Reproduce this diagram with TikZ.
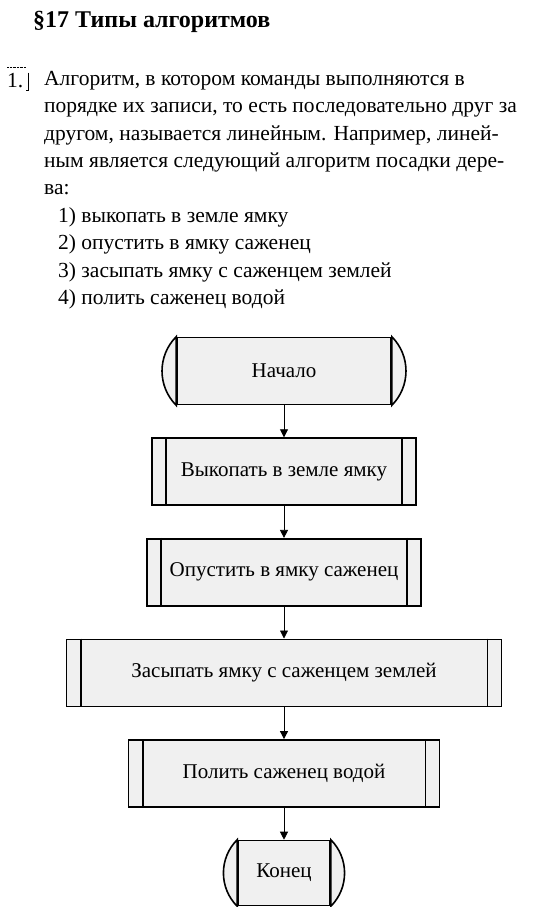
\documentclass[tikz,border=0pt]{standalone}
\usepackage{fontspec}
\setmainfont{Liberation Serif}
\usetikzlibrary{arrows.meta, positioning}

\begin{document}
\begin{tikzpicture}
  [
  x = 1pt, y = 1pt,
  % text
  title/.style = {anchor = base west, inner sep = 0,
    font = \fontsize{24}{28}\selectfont\bfseries},
  body/.style = {anchor = north west, inner sep = 0, align = left,
    font = \fontsize{21.5}{27.4}\selectfont},
  % blocks
  block/.style = {rectangle, draw, line width = 1.6pt, fill = black!6,
    minimum height = 67pt, inner sep = 0,
    font = \fontsize{21}{24}\selectfont},
  term/.style = {block},
  % line
  line/.style = {draw, line width = 0.8pt, -{Triangle[length = 8pt, width = 8pt]}},
  node distance = 32pt,
  ]

  \useasboundingbox (0,0) rectangle (552,-907);

  % text
  \node [title] (head) at (33,-28) {\S17 Типы алгоритмов};
  \node [body, anchor = base west] (num) at (7,-87) {1.};
  \draw [densely dotted] ([yshift = 5pt]num.north west) -- ([yshift = 5pt, xshift = 3pt]num.north east);
  \draw ([xshift = 5pt]num.north east) -- ([xshift = 5pt, yshift = -3pt]num.south east) -- ++(-3pt,0);
  \node [body] (para) at (44,-71) {Алгоритм, в котором команды выполняются в\\
    порядке их записи, то есть последовательно друг за\\
    другом, называется линейным. Например, линей-\\
    ным является следующий алгоритм посадки дере-\\
    ва:\\
    \hspace*{14pt}1) выкопать в земле ямку\\
    \hspace*{14pt}2) опустить в ямку саженец\\
    \hspace*{14pt}3) засыпать ямку с саженцем землей\\
    \hspace*{14pt}4) полить саженец водой};

  % nodes
  \node [term, minimum width = 214pt] (start) at (284,-371) {Начало};
  \node [block, minimum width = 264pt, below = of start] (dig) {Выкопать в земле ямку};
  \node [block, minimum width = 274pt, below = of dig] (lower) {Опустить в ямку саженец};
  \node [block, minimum width = 435pt, below = of lower] (bury) {Засыпать ямку с саженцем землей};
  \node [block, minimum width = 311pt, below = of bury] (water) {Полить саженец водой};
  \node [term, minimum width = 92pt, minimum height = 65pt, below = of water] (stop) {Конец};

  % sides
  \foreach \n in {start, stop} {
    \draw [line width = 1.6pt, fill = black!6] (\n.north west) to [bend right = 45] (\n.south west) -- cycle;
    \draw [line width = 1.6pt, fill = black!6] (\n.north east) to [bend left = 45] (\n.south east) -- cycle;
  }
  \foreach \n in {dig, lower, bury, water} {
    \draw [line width = 1.6pt] ([xshift = 15pt]\n.north west) -- ([xshift = 15pt]\n.south west);
    \draw [line width = 1.6pt] ([xshift = -15pt]\n.north east) -- ([xshift = -15pt]\n.south east);
  }

  % path
  \path [line] (start) -- (dig);
  \path [line] (dig) -- (lower);
  \path [line] (lower) -- (bury);
  \path [line] (bury) -- (water);
  \path [line] (water) -- (stop);

\end{tikzpicture}
\end{document}
